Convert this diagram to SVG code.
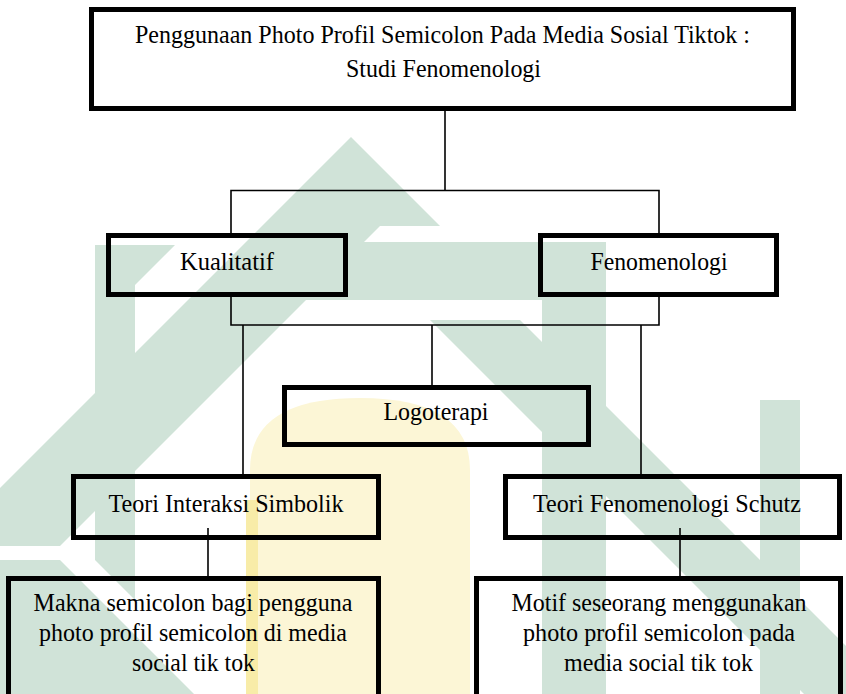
<svg xmlns="http://www.w3.org/2000/svg" width="846" height="694" viewBox="0 0 846 694">
  <style>
    .box { fill: none; stroke: #000; stroke-width: 5; }
    .conn { fill: none; stroke: #000; stroke-width: 1.6; }
    .lbl { font-family: "Liberation Serif", "Times New Roman", serif; font-size: 26px; fill: #000; text-anchor: middle; }
    .wm { fill: #d0e3d8; }
    .wy { fill: #fcf6d6; }
  </style>
  <rect width="846" height="694" fill="#ffffff"/>
  <g id="watermark">
    <path class="wy" d="M250 694 L250 470 Q250 398 360 398 Q470 398 470 470 L470 694 Z"/>
    <rect x="246" y="500" width="12" height="194" fill="#f8eca8"/>
    <polygon class="wm" points="351,137 440,226 380,226 60,546 0,546 0,488"/>
    <polygon class="wm" points="0,560 60,560 194,694 134,694 0,694"/>
    <polygon class="wm" points="95,245 175,245 135,285 135,600 95,560"/>
    <polygon class="wm" points="357,242 606,242 606,300 299,300"/>
    <polygon class="wm" points="430,320 520,320 846,646 846,694 804,694"/>
    <rect class="wm" x="542" y="242" width="64" height="452"/>
    <rect class="wm" x="760" y="400" width="40" height="294"/>
  </g>
  <g id="connectors">
    <line class="conn" x1="445" y1="111" x2="445" y2="190.5"/>
    <polyline class="conn" points="231,233 231,190.5 659,190.5 659,233"/>
    <polyline class="conn" points="231,297 231,325 659,325 659,297"/>
    <line class="conn" x1="243" y1="325" x2="243" y2="474"/>
    <line class="conn" x1="432" y1="325" x2="432" y2="385"/>
    <line class="conn" x1="641" y1="325" x2="641" y2="474"/>
    <line class="conn" x1="208" y1="528" x2="208" y2="576"/>
    <line class="conn" x1="680" y1="528" x2="680" y2="576"/>
  </g>
  <g id="node-title">
    <rect class="box" x="91.5" y="9.5" width="702" height="99"/>
    <text class="lbl" x="442.5" y="43" textLength="615" lengthAdjust="spacingAndGlyphs">Penggunaan Photo Profil Semicolon Pada Media Sosial Tiktok :</text>
    <text class="lbl" x="443.5" y="77" textLength="195" lengthAdjust="spacingAndGlyphs">Studi Fenomenologi</text>
  </g>
  <g id="node-kualitatif">
    <rect class="box" x="108.5" y="235.5" width="237" height="59"/>
    <text class="lbl" x="227" y="270" textLength="94" lengthAdjust="spacingAndGlyphs">Kualitatif</text>
  </g>
  <g id="node-fenomenologi">
    <rect class="box" x="540.5" y="235.5" width="236" height="59"/>
    <text class="lbl" x="659" y="270" textLength="137" lengthAdjust="spacingAndGlyphs">Fenomenologi</text>
  </g>
  <g id="node-logoterapi">
    <rect class="box" x="284.5" y="387.5" width="304" height="57"/>
    <text class="lbl" x="436" y="420" textLength="105" lengthAdjust="spacingAndGlyphs">Logoterapi</text>
  </g>
  <g id="node-interaksi">
    <rect class="box" x="73.5" y="476.5" width="305" height="61"/>
    <text class="lbl" x="226" y="512" textLength="235" lengthAdjust="spacingAndGlyphs">Teori Interaksi Simbolik</text>
  </g>
  <g id="node-schutz">
    <rect class="box" x="505.5" y="476.5" width="334" height="61"/>
    <text class="lbl" x="667" y="512" textLength="268" lengthAdjust="spacingAndGlyphs">Teori Fenomenologi Schutz</text>
  </g>
  <g id="node-makna">
    <rect class="box" x="8.5" y="578.5" width="370" height="130"/>
    <text class="lbl" x="193" y="611" textLength="319" lengthAdjust="spacingAndGlyphs">Makna semicolon bagi pengguna</text>
    <text class="lbl" x="193" y="641" textLength="308" lengthAdjust="spacingAndGlyphs">photo profil semicolon di media</text>
    <text class="lbl" x="193.5" y="671" textLength="123" lengthAdjust="spacingAndGlyphs">social tik tok</text>
  </g>
  <g id="node-motif">
    <rect class="box" x="476.5" y="578.5" width="364" height="130"/>
    <text class="lbl" x="659" y="611" textLength="295" lengthAdjust="spacingAndGlyphs">Motif seseorang menggunakan</text>
    <text class="lbl" x="659" y="641" textLength="272" lengthAdjust="spacingAndGlyphs">photo profil semicolon pada</text>
    <text class="lbl" x="658.5" y="671" textLength="189" lengthAdjust="spacingAndGlyphs">media social tik tok</text>
  </g>
</svg>
